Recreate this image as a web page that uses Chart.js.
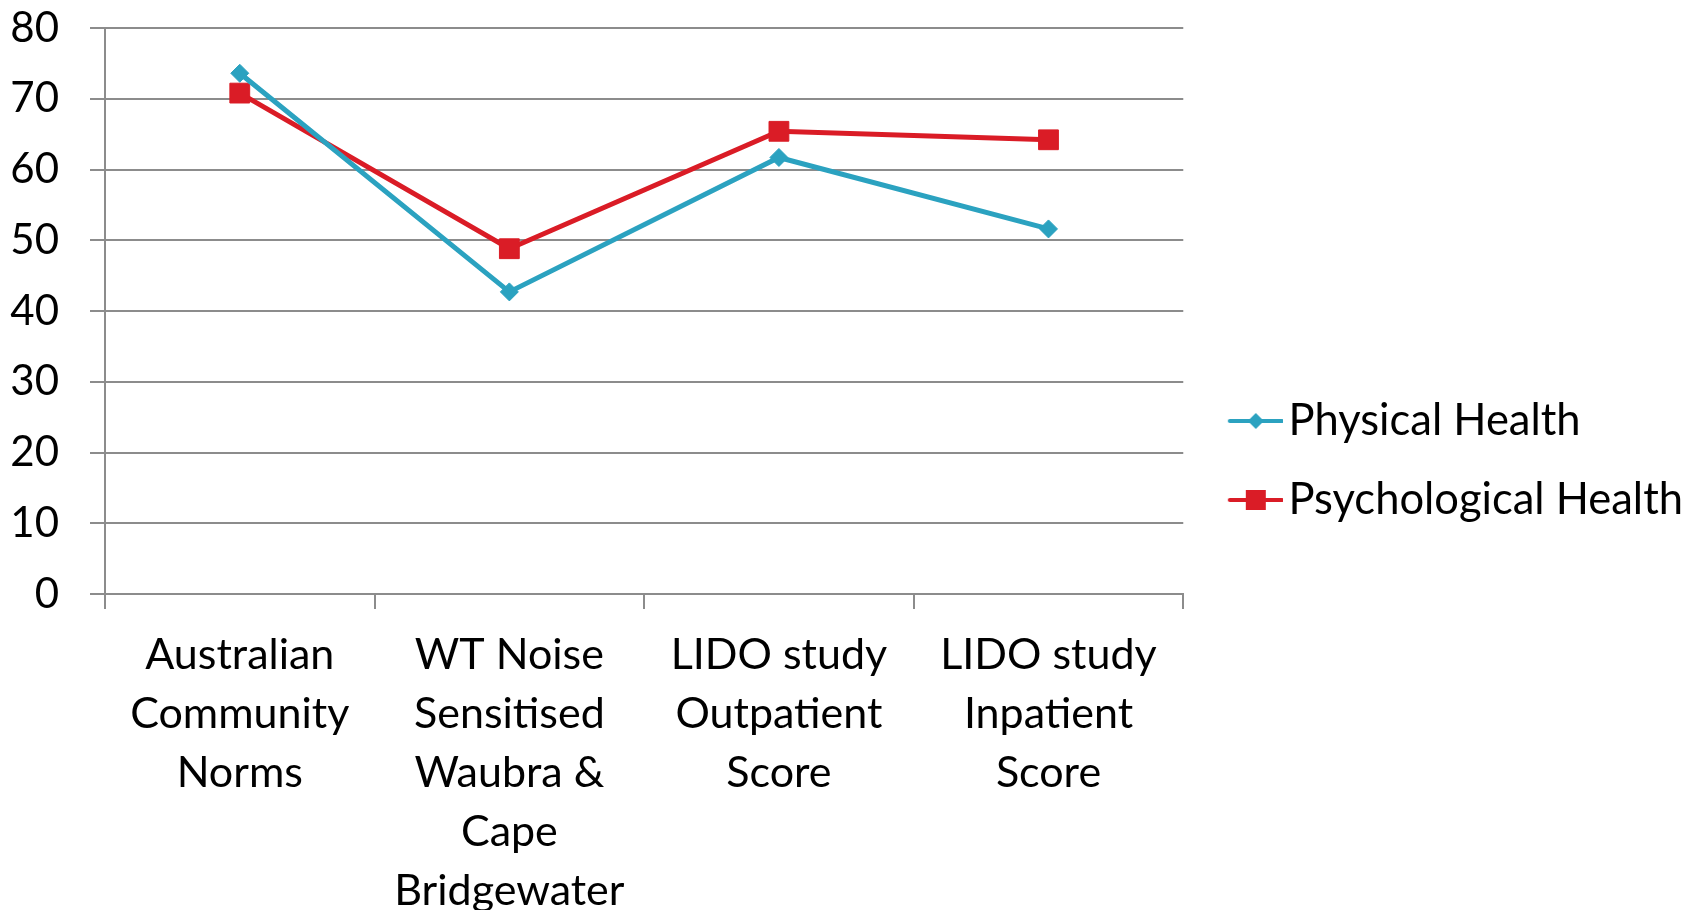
<!DOCTYPE html>
<html>
<head>
<meta charset="utf-8">
<script src="https://cdn.jsdelivr.net/npm/chart.js@4"></script>
<style>
  html, body { margin: 0; padding: 0; background: #fff; }
  #wrap { width: 1688px; height: 910px; }
</style>
</head>
<body>
<div id="wrap"><canvas id="chart" width="1688" height="910"></canvas></div>
<script>
// categories (x axis), one array of lines per label
const categories = [
    ['Australian', 'Community', 'Norms'],
    ['WT Noise', 'Sensitised', 'Waubra &', 'Cape', 'Bridgewater'],
    ['LIDO study', 'Outpatient', 'Score'],
    ['LIDO study', 'Inpatient', 'Score']
];

// series values
const physicalHealth = [73.6, 42.7, 61.7, 51.6];
const psychologicalHealth = [70.8, 48.8, 65.4, 64.2];

// y axis ticks
const yMin = 0;
const yMax = 80;
const yStep = 10;

const tealColor = '#2ba2c0';
const redColor = '#da1c26';
const gridColor = '#8c8c8c';
const fontFamily = 'Lato, "Open Sans", sans-serif';

// legend marker: a short line with the point marker in the middle
function legendMarker(color, shape) {
    const c = document.createElement('canvas');
    c.width = 80;
    c.height = 24;
    const ctx = c.getContext('2d');
    ctx.strokeStyle = color;
    ctx.fillStyle = color;
    ctx.lineWidth = 4;
    ctx.lineCap = 'round';
    ctx.beginPath();
    ctx.moveTo(27, 12);
    ctx.lineTo(79, 12);
    ctx.stroke();
    if (shape === 'diamond') {
        ctx.beginPath();
        ctx.moveTo(53, 4);
        ctx.lineTo(61, 12);
        ctx.lineTo(53, 20);
        ctx.lineTo(45, 12);
        ctx.closePath();
        ctx.fill();
    } else {
        ctx.fillRect(43, 2, 20, 20);
    }
    return c;
}

const ctx = document.getElementById('chart').getContext('2d');
const chart = new Chart(ctx, {
    type: 'line',
    data: {
        labels: categories,
        datasets: [{
            label: 'Physical Health',
            data: physicalHealth,
            borderColor: tealColor,
            backgroundColor: tealColor,
            borderWidth: 5,
            pointStyle: 'rectRot',
            pointRadius: 9,
            pointBorderWidth: 1,
            tension: 0
        }, {
            label: 'Psychological Health',
            data: psychologicalHealth,
            borderColor: redColor,
            backgroundColor: redColor,
            borderWidth: 5,
            pointStyle: 'rect',
            pointRadius: 14,
            pointBorderWidth: 1,
            tension: 0
        }]
    },
    options: {
        responsive: false,
        animation: false,
        devicePixelRatio: 1,
        layout: {
            padding: {top: -17, left: 0, right: -5, bottom: -28}
        },
        plugins: {
            tooltip: {enabled: false},
            legend: {
                position: 'right',
                align: 'center',
                maxWidth: 620,
                labels: {
                    usePointStyle: true,
                    pointStyleWidth: 48,
                    padding: 35.5,
                    color: '#000',
                    font: {family: fontFamily, size: 43.5},
                    generateLabels: function(chart) {
                        const shapes = ['diamond', 'square'];
                        return chart.data.datasets.map((ds, i) => ({
                            text: ds.label,
                            fillStyle: ds.borderColor,
                            strokeStyle: ds.borderColor,
                            lineWidth: 0,
                            pointStyle: legendMarker(ds.borderColor, shapes[i]),
                            hidden: false,
                            datasetIndex: i,
                            fontColor: '#000'
                        }));
                    }
                }
            }
        },
        scales: {
            x: {
                offset: true,
                grid: {
                    offset: true,
                    drawOnChartArea: false,
                    drawTicks: true,
                    tickLength: 15,
                    color: gridColor,
                    lineWidth: 2
                },
                border: {display: true, color: gridColor, width: 2},
                ticks: {
                    color: '#000',
                    padding: 17,
                    maxRotation: 0,
                    autoSkip: false,
                    font: {family: fontFamily, size: 43, lineHeight: '59px'}
                }
            },
            y: {
                min: yMin,
                max: yMax,
                grid: {
                    color: gridColor,
                    lineWidth: 2,
                    tickLength: 15
                },
                border: {display: true, color: gridColor, width: 2},
                ticks: {
                    stepSize: yStep,
                    color: '#000',
                    padding: 31,
                    font: {family: fontFamily, size: 42}
                },
                afterFit: function(axis) {
                    axis.width = 105;
                    axis.paddingTop = 28;
                }
            }
        }
    }
});
</script>
</body>
</html>
